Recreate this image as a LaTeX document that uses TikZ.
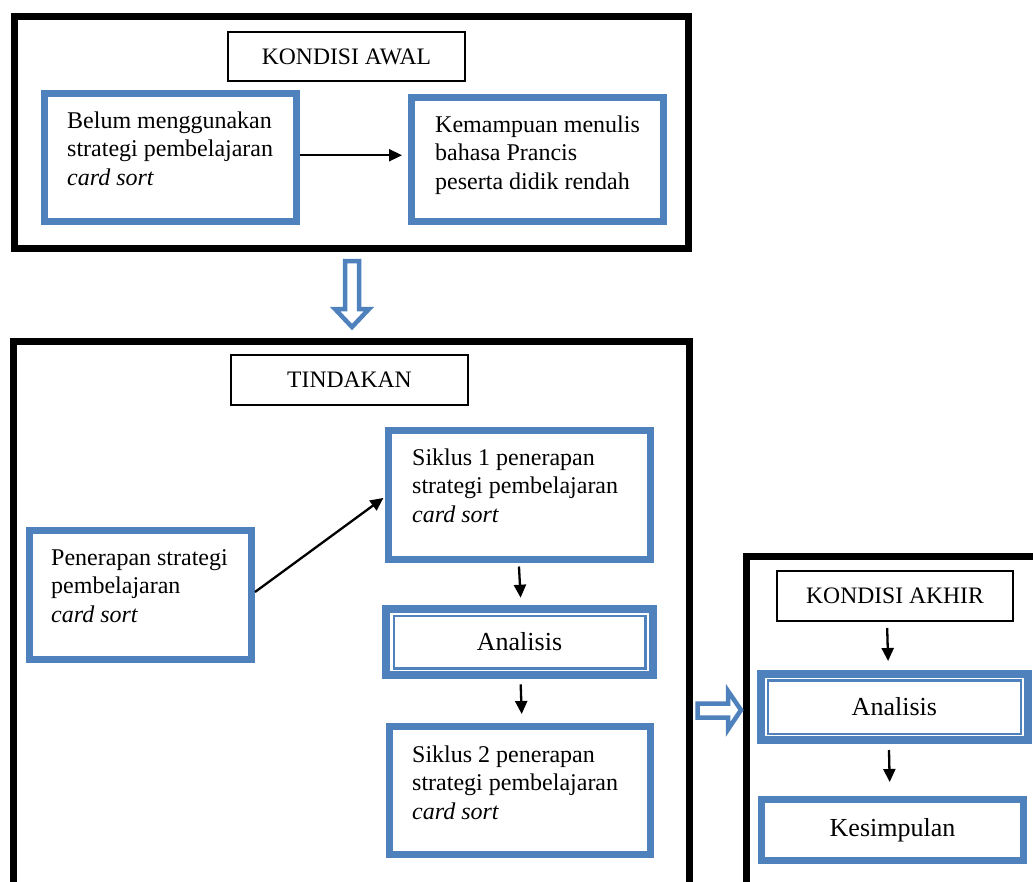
\documentclass[tikz,border=0pt]{standalone}
\usepackage{fontspec}
\setmainfont{Liberation Serif}
\usetikzlibrary{arrows.meta}
\definecolor{wblue}{HTML}{4F81BD}
\newcommand{\mylines}[3]{\vtop{\baselineskip=28.5pt\hbox{#1}\hbox{#2}\hbox{#3}}}
\begin{document}
\begin{tikzpicture}[x=1pt,y=-1pt,
  bigbox/.style={draw=black, line width=7pt, inner sep=0pt},
  labelbox/.style={draw=black, line width=2pt, inner sep=0pt, font=\fontsize{23.6}{28}\selectfont},
  bluebox/.style={draw=wblue, line width=7pt, inner sep=0pt},
  dblbox/.style={draw=wblue, line width=8pt, inner sep=0pt, font=\fontsize{26}{30}\selectfont},
  innerline/.style={draw=wblue, line width=2.5pt},
  bodytext/.style={inner sep=0pt, anchor=base west, font=\fontsize{24}{28.5}\selectfont},
  arr/.style={line width=2.3pt, -{Triangle[length=13pt,width=12pt]}},
  hollow/.style={draw=wblue, fill=white, line width=4.5pt, line join=miter}]
\useasboundingbox (0,0) rectangle (1033,881);
\clip (0,0) rectangle (1033,881);
\fill[white] (0,0) rectangle (1033,881);

% big frames
\node[bigbox, minimum width=674.5pt, minimum height=232pt] (awal) at (351.25,132.5) {};
\node[bigbox, minimum width=676pt, minimum height=618.5pt] (tind) at (351.5,650.75) {};
\node[bigbox, minimum width=403.5pt, minimum height=404pt] (akhir) at (948.25,758) {};

% labels
\node[labelbox, minimum width=237pt, minimum height=49pt] (lawal) at (346.5,56.5) {KONDISI AWAL};
\node[labelbox, minimum width=237pt, minimum height=50pt] (ltind) at (349.5,380) {TINDAKAN};
\node[labelbox, minimum width=236pt, minimum height=50pt] (lakhir) at (895,596) {KONDISI AKHIR};

% blue boxes
\node[bluebox, minimum width=251.5pt, minimum height=128.5pt] (b1) at (170.25,157.25) {};
\node[bluebox, minimum width=252pt, minimum height=124pt] (b2) at (537.5,159) {};
\node[bluebox, minimum width=222.5pt, minimum height=129pt] (pen) at (140.25,595) {};
\node[bluebox, minimum width=261.5pt, minimum height=128.5pt] (s1) at (519.25,494.75) {};
\node[dblbox, minimum width=266.4pt, minimum height=66.6pt] (ana) at (519.5,642) {Analisis};
\node[bluebox, minimum width=261pt, minimum height=128pt] (s2) at (519.5,790) {};
\node[dblbox, minimum width=266.7pt, minimum height=66pt] (ana2) at (894.35,707) {Analisis};
\node[bluebox, minimum width=262pt, minimum height=60.5pt, font=\fontsize{26}{30}\selectfont] (kes) at (892.5,829.75) {Kesimpulan};

% inner thin lines of the double boxes
\draw[innerline] ([xshift=11.5pt,yshift=-11.3pt]ana.north west) rectangle ([xshift=-11pt,yshift=11pt]ana.south east);
\draw[innerline] ([xshift=11pt,yshift=-10.5pt]ana2.north west) rectangle ([xshift=-10.7pt,yshift=10pt]ana2.south east);

% texts
\node[bodytext] (t1) at (67,128) {\mylines{Belum menggunakan}{strategi pembelajaran}{\textit{card sort}}};
\node[bodytext] (t2) at (435,132) {\mylines{Kemampuan menulis}{bahasa Prancis}{peserta didik rendah}};
\node[bodytext] (t3) at (51,565) {\mylines{Penerapan strategi}{pembelajaran}{\textit{card sort}}};
\node[bodytext] (t4) at (412,465) {\mylines{Siklus 1 penerapan}{strategi pembelajaran}{\textit{card sort}}};
\node[bodytext] (t5) at (412,762) {\mylines{Siklus 2 penerapan}{strategi pembelajaran}{\textit{card sort}}};

% connectors
\draw[arr, shorten >=6pt] ([yshift=2pt]b1.east) -- ([yshift=2pt]b1.east -| b2.west);
\draw[arr, shorten >=2pt] ([yshift=3pt]pen.east) -- ([yshift=-2pt]s1.west);
\draw[arr, shorten <=4pt, shorten >=7pt] ([xshift=-0.5pt]s1.south) -- ([xshift=1.5pt]ana.north);
\draw[arr, shorten <=5pt, shorten >=8.5pt] ([xshift=1pt]ana.south) -- ([xshift=2.5pt]s2.north);
\draw[arr, shorten <=6pt, shorten >=9pt] ([xshift=-8pt]lakhir.south) -- ([xshift=-6pt]ana2.north);
\draw[arr, shorten <=6pt, shorten >=14pt] ([xshift=-5.5pt]ana2.south) -- ([xshift=-2.5pt]kes.north);

% hollow block arrows
\draw[hollow] (345,261) -- (359,261) -- (359,309) -- (369,309) -- (352,327) -- (335,309) -- (345,309) -- cycle;
\draw[hollow] (697.5,703.5) -- (728,703.5) -- (728,691) -- (741,710) -- (728,729.5) -- (728,717.5) -- (697.5,717.5) -- cycle;
\end{tikzpicture}
\end{document}
